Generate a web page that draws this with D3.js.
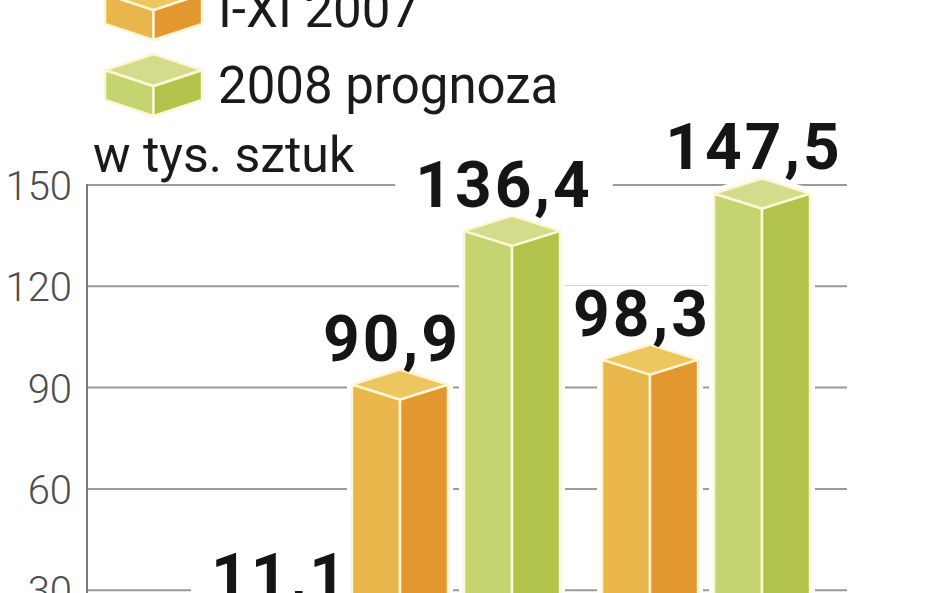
<!DOCTYPE html>
<html>
<head>
<meta charset="utf-8">
<script src="https://cdn.jsdelivr.net/npm/d3@7"></script>
<style>
  html, body { margin: 0; padding: 0; background: #fff; }
  svg { display: block; }
</style>
</head>
<body>
<script>
// ---- data ----
const categories = ["kategoria 1", "kategoria 2"];
const seriesNames = ["2006", "I-XI 2007", "2008 prognoza"];
const series0Values = [11.1, null];
const series1Values = [90.9, 98.3];
const series2Values = [136.4, 147.5];
const yTicks = [30, 60, 90, 120, 150];
const unitLabel = "w tys. sztuk";
const visibleLegend = [1, 2];

// ---- styles ----
const palette = [
  { left: "#c9785a", right: "#b35f42", top: "#d9957a" },
  { left: "#e8b64a", right: "#e2982f", top: "#edc660" },
  { left: "#c4d470", right: "#b2c34b", top: "#d3dc8a" }
];
const cream = "#fff6d5";

const W = 948, H = 593;
const svg = d3.select("body").append("svg").attr("width", W).attr("height", H);

const y = d3.scaleLinear().domain([0, 150]).range([691.5, 185]);
const allSeries = [series0Values, series1Values, series2Values];

// flat bar list
const bars = [];
categories.forEach((c, gi) => {
  allSeries.forEach((vals, si) => {
    if (vals[gi] != null) bars.push({ key: gi + "-" + si, gi, si, v: vals[gi] });
  });
});
const groupGap = 26;
const x = d3.scaleBand().domain(bars.map(b => b.key)).range([240, 784])
  .paddingInner(16 / 112).paddingOuter(0);
const bx = b => x(b.key) + b.gi * groupGap;

// gridlines & axis
const gx0 = 87, gx1 = 847;
svg.append("g").selectAll("line").data(yTicks).join("line")
  .attr("x1", gx0).attr("x2", gx1)
  .attr("y1", d => y(d)).attr("y2", d => y(d))
  .attr("stroke", "#9b9b9b").attr("stroke-width", 2);
svg.append("line").attr("x1", gx0).attr("x2", gx0)
  .attr("y1", y(150) - 1).attr("y2", H + 5)
  .attr("stroke", "#7a7a7a").attr("stroke-width", 2);

svg.append("g").selectAll("text").data(yTicks).join("text")
  .attr("x", 72).attr("y", d => y(d) + 15)
  .attr("text-anchor", "end")
  .attr("font-family", "Roboto").attr("font-weight", 300)
  .attr("font-size", 40).attr("fill", "#4d4d4d")
  .text(d => d);

// unit label
svg.append("text").attr("x", 93).attr("y", 172)
  .attr("font-family", "Roboto").attr("font-size", 50).attr("fill", "#1a1a1a")
  .text(unitLabel);

// layers
const haloG = svg.append("g");
const barG = svg.append("g");
const labG = svg.append("g");

// cube / pillar drawing
function pillar(g, x0, w, yTop, yBottom, h, col, halo) {
  const cx = x0 + w / 2, x1 = x0 + w;
  const left = [[x0, yTop], [cx, yTop + h], [cx, yBottom + h], [x0, yBottom]];
  const right = [[cx, yTop + h], [x1, yTop], [x1, yBottom], [cx, yBottom + h]];
  const top = [[x0, yTop], [cx, yTop - h], [x1, yTop], [cx, yTop + h]];
  const outline = [[x0, yTop], [cx, yTop - h], [x1, yTop], [x1, yBottom], [cx, yBottom + h], [x0, yBottom]];
  const line = d3.line();
  if (halo) {
    g.append("path").attr("d", line(outline) + "Z")
      .attr("fill", "#fff").attr("stroke", "#fff").attr("stroke-width", 10)
      .attr("stroke-linejoin", "round");
  }
  [[left, col.left], [right, col.right], [top, col.top]].forEach(([pts, f]) => {
    g.append("path").attr("d", line(pts) + "Z")
      .attr("fill", f).attr("stroke", cream).attr("stroke-width", 2.5)
      .attr("stroke-linejoin", "round");
  });
}

bars.forEach(b => {
  pillar(barG, bx(b), x.bandwidth(), y(b.v), H + 40, 15, palette[b.si], true);
});

// value labels
const fmt = v => d3.format(".1f")(v).replace(".", ",");
bars.forEach(b => {
  const ly = Math.min(y(b.v) - 24, y(27.5));
  const t = labG.append("text")
    .attr("x", bx(b) + x.bandwidth() / 2 - 8).attr("y", ly)
    .attr("text-anchor", "middle")
    .attr("font-family", "Roboto").attr("font-weight", 700)
    .attr("font-size", 64).attr("letter-spacing", 3).attr("fill", "#151515")
    .text(fmt(b.v));
  const bb = t.node().getBBox();
  haloG.append("rect")
    .attr("x", bb.x - 20).attr("y", ly - 50)
    .attr("width", bb.width + 40).attr("height", 62)
    .attr("fill", "#fff");
});

// legend
const legG = svg.append("g");
const legendStep = 76;
visibleLegend.forEach(si => {
  const off = (si - 2) * legendStep;
  pillar(legG, 105, 97, 70 + off, 100 + off, 16, palette[si], false);
  legG.append("text").attr("x", 218).attr("y", 103 + off)
    .attr("font-family", "Roboto").attr("font-size", 51).attr("fill", "#1a1a1a")
    .text(seriesNames[si]);
});
</script>
</body>
</html>
